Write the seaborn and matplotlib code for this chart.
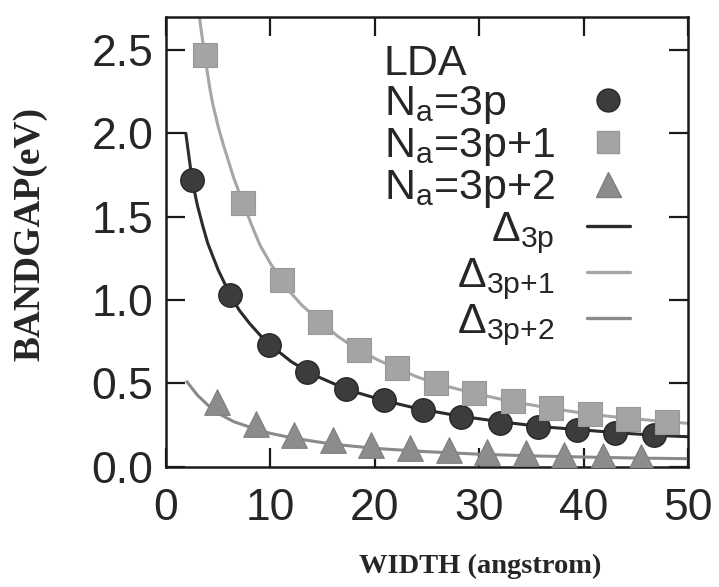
import matplotlib
matplotlib.use("Agg")
import matplotlib.pyplot as plt
from matplotlib.lines import Line2D
import seaborn as sns

# Ribbon widths (angstrom) and LDA band gaps (eV) for the three families
width_3p = [2.46, 6.15, 9.84, 13.53, 17.22, 20.91, 24.60, 28.29, 31.98, 35.67, 39.36, 43.05, 46.74]
gap_3p = [1.72, 1.03, 0.73, 0.57, 0.465, 0.40, 0.34, 0.296, 0.264, 0.24, 0.22, 0.204, 0.19]

width_3p1 = [3.69, 7.38, 11.07, 14.76, 18.45, 22.14, 25.83, 29.52, 33.21, 36.90, 40.59, 44.28, 47.97]
gap_3p1 = [2.47, 1.58, 1.12, 0.87, 0.70, 0.59, 0.50, 0.44, 0.395, 0.35, 0.315, 0.285, 0.27]

width_3p2 = [4.92, 8.61, 12.30, 15.99, 19.68, 23.37, 27.06, 30.75, 34.44, 38.13, 41.82, 45.51]
gap_3p2 = [0.39, 0.255, 0.19, 0.16, 0.13, 0.11, 0.10, 0.09, 0.08, 0.07, 0.065, 0.06]

# Fitted gap curves Delta_3p, Delta_3p+1, Delta_3p+2
fit_w_3p = [1.9, 2.2, 2.5, 3.0, 3.5, 4.0, 5.0, 6.0, 7.0, 8.0, 9.0, 10.0, 12.0, 14.0,
            16.0, 18.0, 21.0, 24.0, 28.0, 32.0, 36.0, 40.0, 44.0, 48.0, 50.0]
fit_g_3p = [2.00, 1.86, 1.72, 1.57, 1.45, 1.34, 1.18, 1.05, 0.94, 0.86, 0.79, 0.73, 0.63, 0.555,
            0.50, 0.45, 0.395, 0.35, 0.305, 0.27, 0.24, 0.22, 0.20, 0.185, 0.18]

fit_w_3p1 = [3.0, 3.3, 3.7, 4.2, 4.5, 5.0, 5.5, 6.0, 6.5, 7.4, 8.2, 9.0, 10.0, 11.07, 12.0, 13.0,
             14.76, 16.5, 18.45, 20.3, 22.14, 24.0, 25.83, 29.52, 33.2, 36.9, 40.6, 44.3, 48.0, 50.0]
fit_g_3p1 = [2.80, 2.65, 2.47, 2.27, 2.17, 2.04, 1.93, 1.83, 1.73, 1.58, 1.45, 1.33, 1.22, 1.12, 1.04, 0.97,
             0.87, 0.78, 0.70, 0.64, 0.59, 0.54, 0.50, 0.44, 0.39, 0.35, 0.315, 0.29, 0.27, 0.26]

fit_w_3p2 = [2.0, 2.5, 3.0, 4.0, 5.0, 6.5, 8.6, 10.0, 12.3, 16.0, 20.0, 25.0, 30.0, 35.0, 40.0, 45.0, 50.0]
fit_g_3p2 = [0.51, 0.47, 0.43, 0.37, 0.32, 0.27, 0.225, 0.20, 0.17, 0.135, 0.11, 0.09, 0.075, 0.065,
             0.058, 0.052, 0.048]

x_ticks = [0, 10, 20, 30, 40, 50]
y_ticks = [0.0, 0.5, 1.0, 1.5, 2.0, 2.5]

c_dark = "#2b2b2b"
c_light = "#a6a6a6"
c_mid = "#8a8a8a"
c_text = "#262626"

sns.set_style("ticks")
plt.rcParams["font.family"] = ["Liberation Sans", "DejaVu Sans"]
plt.rcParams["mathtext.fontset"] = "custom"
plt.rcParams["mathtext.rm"] = "Liberation Sans"
plt.rcParams["mathtext.it"] = "Liberation Sans:italic"
plt.rcParams["mathtext.bf"] = "Liberation Sans:bold"

fig = plt.figure(figsize=(7.19, 5.87), dpi=100)
ax = fig.add_axes([166 / 719, 120.3 / 587, 522 / 719, 449.7 / 587])

# fitted curves
sns.lineplot(x=fit_w_3p, y=fit_g_3p, ax=ax, color=c_dark, lw=2.2, sort=False)
sns.lineplot(x=fit_w_3p1, y=fit_g_3p1, ax=ax, color=c_light, lw=2.2, sort=False)
sns.lineplot(x=fit_w_3p2, y=fit_g_3p2, ax=ax, color=c_mid, lw=2.2, sort=False)

# LDA data points
sns.scatterplot(x=width_3p, y=gap_3p, ax=ax, marker="o", s=285, color="#3c3c3c",
                edgecolor="#262626", linewidth=1.0, zorder=3)
sns.scatterplot(x=width_3p1, y=gap_3p1, ax=ax, marker="s", s=280, color="#a4a4a4",
                edgecolor="#989898", linewidth=0.8, zorder=4)
sns.scatterplot(x=width_3p2, y=gap_3p2, ax=ax, marker="^", s=340, color="#8c8c8c",
                edgecolor="#7e7e7e", linewidth=0.8, zorder=5)

ax.set_xlim(0, 50)
ax.set_ylim(0, 2.698)
ax.set_xticks(x_ticks)
ax.set_xticklabels([str(v) for v in x_ticks])
ax.set_yticks(y_ticks)
ax.set_yticklabels([f"{v:.1f}" for v in y_ticks])

for side in ["top", "bottom", "left", "right"]:
    ax.spines[side].set_visible(True)
    ax.spines[side].set_linewidth(1.8)
    ax.spines[side].set_color("#1a1a1a")

ax.tick_params(axis="both", which="major", direction="in", length=14, width=1.6,
               top=True, right=True, labelsize=32, color="#1a1a1a", labelcolor=c_text)
ax.tick_params(axis="x", pad=15)
ax.tick_params(axis="y", pad=9)

ax.set_xlabel("WIDTH (angstrom)", family=["Liberation Serif"], fontweight="bold",
              fontsize=20.5, color=c_text)
ax.set_ylabel("BANDGAP(eV)", family=["Liberation Serif"], fontweight="bold",
              fontsize=27, color=c_text)
ax.xaxis.set_label_coords((480 - 166) / 522, (466.7 - 554) / 449.7)
ax.yaxis.set_label_coords((47 - 166) / 522, (466.7 - 234) / 449.7)

# legend: markers and curves, labels on the left of their keys
handles = [
    Line2D([], [], ls="none", marker="o", ms=16.5, color="#3c3c3c", mec="#262626"),
    Line2D([], [], ls="none", marker="s", ms=16.5, color="#a4a4a4", mec="#989898"),
    Line2D([], [], ls="none", marker="^", ms=18, color="#8c8c8c", mec="#7e7e7e"),
    Line2D([], [], color=c_dark, lw=2.4),
    Line2D([], [], color=c_light, lw=2.4),
    Line2D([], [], color=c_mid, lw=2.4),
]
labels = [
    r"N$_{\mathrm{a}}$=3p",
    r"N$_{\mathrm{a}}$=3p+1",
    r"N$_{\mathrm{a}}$=3p+2",
    r"$\Delta_{\mathrm{3p}}$",
    r"$\Delta_{\mathrm{3p{+}1}}$",
    r"$\Delta_{\mathrm{3p{+}2}}$",
]
leg = ax.legend(handles, labels, title="LDA", loc="upper right",
                bbox_to_anchor=(630 / 719, 1 - 44 / 587), bbox_transform=fig.transFigure,
                frameon=False, markerfirst=False, fontsize=31, title_fontsize=31,
                handlelength=1.0, handletextpad=0.75, labelspacing=0.0,
                borderpad=0, borderaxespad=0, alignment="left")
for t in leg.get_texts():
    t.set_color(c_text)
leg.get_title().set_color(c_text)

# the atom-count labels read left-aligned while the keys stay in one column
fig.canvas.draw()
renderer = fig.canvas.get_renderer()
texts = leg.get_texts()
w_short = texts[0].get_window_extent(renderer).width
w_long = texts[1].get_window_extent(renderer).width
texts[0].set_position((-(w_long - w_short), 0))

fig.savefig("out.png", dpi=100)
